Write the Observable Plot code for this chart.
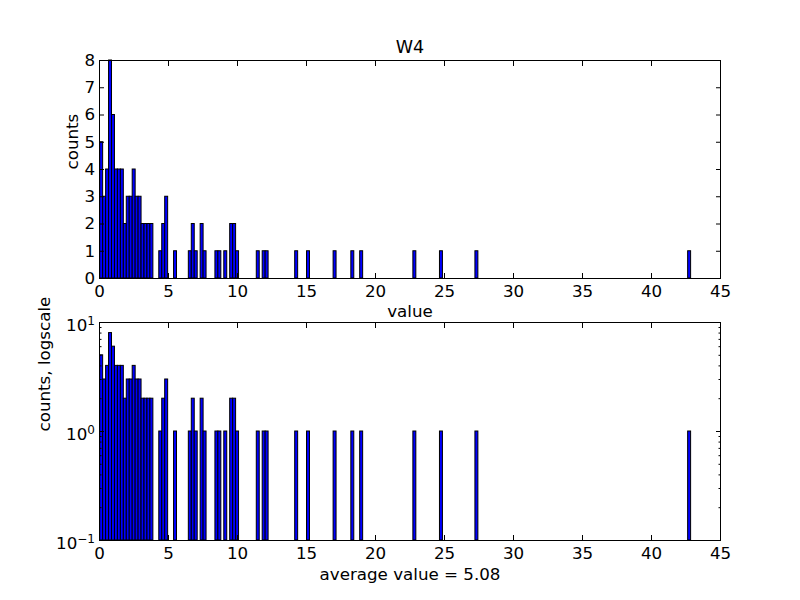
<!DOCTYPE html>
<html><head><meta charset="utf-8">
<script src="https://cdn.jsdelivr.net/npm/d3@7"></script>
<script src="https://cdn.jsdelivr.net/npm/@observablehq/plot@0.6"></script>
<style>
body{margin:0;background:#fff;}
#chart{width:800px;height:600px;}
svg{display:block;}
</style>
</head><body><div id="chart"></div>
<script>
// histogram bins: 200 bins, only non-empty listed
const binStart = 0.05;
const binWidth = 0.2141;
const binIndex = [0,1,2,3,4,5,6,7,8,9,10,11,12,13,14,15,16,17,20,21,22,25,30,31,32,34,35,39,40,42,44,45,46,53,55,56,66,70,79,85,88,106,115,127,199];
const binCount = [5,3,4,8,6,4,4,4,2,3,3,4,3,3,2,2,2,2,1,2,3,1,1,2,1,2,1,1,1,1,2,2,1,1,1,1,1,1,1,1,1,1,1,1,1];
const xTicks = [0,5,10,15,20,25,30,35,40,45];
const yTicksTop = [0,1,2,3,4,5,6,7,8];
const yTicksLog = [0.1,1,10];
const yMinorLog = [0.2,0.3,0.4,0.5,0.6,0.7,0.8,0.9,2,3,4,5,6,7,8,9];
const titleText = "W4";
const xLabelTop = "value";
const yLabelTop = "counts";
const xLabelBottom = "average value = 5.08";
const yLabelBottom = "counts, logscale";

const bins = binIndex.map((i,k)=>({x1: binStart + i*binWidth, x2: binStart + (i+1)*binWidth, count: binCount[k]}));

const font = "font-family:'DejaVu Sans',sans-serif;font-size:16.7px;background:#fff;overflow:visible;color:black;";
const major = -5, minor = -2.5;

const topChart = Plot.plot({
  width: 800, height: 300,
  marginLeft: 99, marginRight: 80, marginTop: 60, marginBottom: 22,
  style: font,
  x: {domain: [0,45]},
  y: {domain: [0,8]},
  marks: [
    Plot.rect(bins, {x1:"x1", x2:"x2", y1:0, y2:"count", fill:"#0000ff", stroke:"black", strokeWidth:1}),
    Plot.frame({stroke:"black", strokeWidth:1}),
    Plot.axisX(xTicks, {anchor:"bottom", tickSize:major, tickPadding:12, label:null, fill:"black"}),
    Plot.axisX(xTicks, {anchor:"top", tickSize:major, tickFormat:()=>"", label:null}),
    Plot.axisY(yTicksTop, {anchor:"left", tickSize:major, tickPadding:9.5, label:null, fill:"black"}),
    Plot.axisY(yTicksTop, {anchor:"right", tickSize:major, tickFormat:()=>"", label:null}),
    Plot.text([titleText], {frameAnchor:"top", dy:-13, lineAnchor:"middle", text:d=>d, fill:"black", fontSize:17.5}),
    Plot.text([xLabelTop], {frameAnchor:"bottom", dy:33, lineAnchor:"middle", text:d=>d, fill:"black"}),
    Plot.text([yLabelTop], {frameAnchor:"left", dx:-27, rotate:-90, lineAnchor:"middle", text:d=>d, fill:"black"})
  ]
});

const supFmt = d => "10^" + String(Math.round(Math.log10(d))).replace("-", "\u2212");

const bottomChart = Plot.plot({
  width: 800, height: 300,
  marginLeft: 99, marginRight: 80, marginTop: 22, marginBottom: 60,
  style: font,
  x: {domain: [0,45]},
  y: {type:"log", domain: [0.1,10]},
  marks: [
    Plot.rect(bins, {x1:"x1", x2:"x2", y1:0.1, y2:"count", fill:"#0000ff", stroke:"black", strokeWidth:1}),
    Plot.frame({stroke:"black", strokeWidth:1}),
    Plot.axisX(xTicks, {anchor:"bottom", tickSize:major, tickPadding:12, label:null, fill:"black"}),
    Plot.axisX(xTicks, {anchor:"top", tickSize:major, tickFormat:()=>"", label:null}),
    Plot.axisY(yTicksLog, {anchor:"left", tickSize:major, tickPadding:9.5, label:null, tickFormat:supFmt, fill:"black"}),
    Plot.axisY(yTicksLog, {anchor:"right", tickSize:major, tickFormat:()=>"", label:null}),
    Plot.axisY(yMinorLog, {anchor:"left", tickSize:minor, tickFormat:()=>"", label:null}),
    Plot.axisY(yMinorLog, {anchor:"right", tickSize:minor, tickFormat:()=>"", label:null}),
    Plot.text([xLabelBottom], {frameAnchor:"bottom", dy:34, lineAnchor:"middle", text:d=>d, fill:"black"}),
    Plot.text([yLabelBottom], {frameAnchor:"left", dx:-55, rotate:-90, lineAnchor:"middle", text:d=>d, fill:"black"})
  ]
});

// superscript formatting of log tick labels
bottomChart.querySelectorAll("text").forEach(t => {
  const s = t.textContent;
  if (t.childElementCount === 0 && /^10\^/.test(s)) {
    const exp = s.slice(3);
    t.textContent = "10";
    const ts = document.createElementNS("http://www.w3.org/2000/svg", "tspan");
    ts.setAttribute("dy", "-0.5em");
    ts.setAttribute("font-size", "72%");
    ts.textContent = exp;
    t.appendChild(ts);
    t.setAttribute("transform", (t.getAttribute("transform") || "") + " translate(0,3)");
  }
});

const c = document.getElementById("chart");
c.appendChild(topChart);
c.appendChild(bottomChart);
</script>
</body></html>
